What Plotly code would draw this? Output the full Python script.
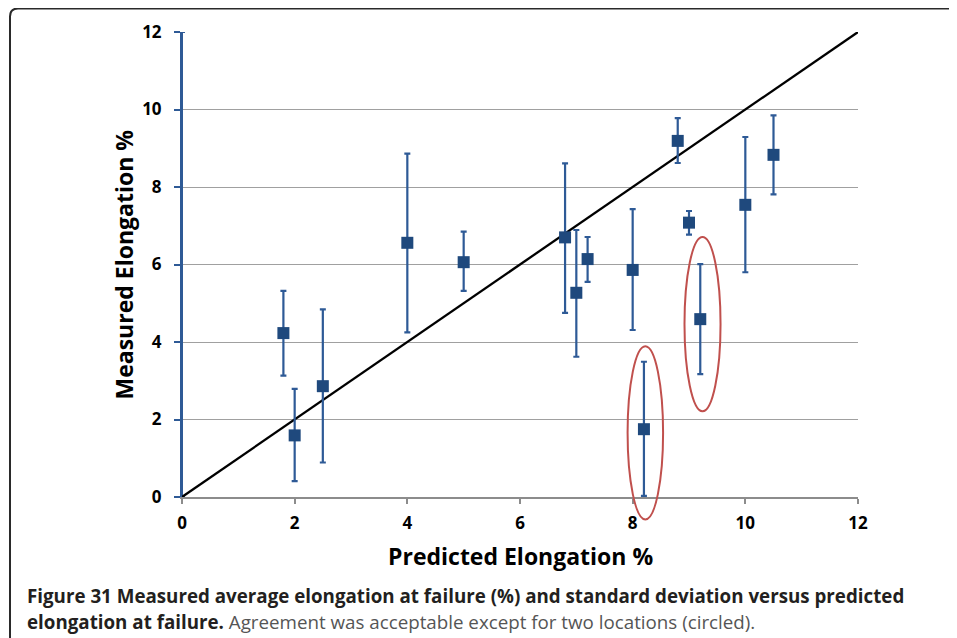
import plotly.graph_objects as go

# ---- data ----
pred = [1.8, 2.0, 2.5, 4.0, 5.0, 6.8, 7.0, 7.2, 8.0, 8.2, 8.8, 9.0, 9.2, 10.0, 10.5]
meas = [4.23, 1.59, 2.86, 6.56, 6.06, 6.70, 5.27, 6.14, 5.86, 1.75, 9.19, 7.08, 4.59, 7.54, 8.83]
err_up = [1.09, 1.20, 1.98, 2.30, 0.79, 1.91, 1.62, 0.57, 1.57, 1.74, 0.59, 0.30, 1.42, 1.75, 1.02]
err_dn = [1.10, 1.18, 1.97, 2.31, 0.74, 1.95, 1.65, 0.59, 1.55, 1.72, 0.57, 0.31, 1.42, 1.74, 1.02]

# point at the origin whose error bar runs up the whole y axis
axis_pt_x = [0]
axis_pt_y = [0]
axis_pt_err = [12]

ref_x = [0, 12]
ref_y = [0, 12]

tick_vals = [0, 2, 4, 6, 8, 10, 12]
tick_text = ["0", "2", "4", "6", "8", "10", "12"]
axis_range = [0, 12]

# circled outliers (x0, x1, y0, y1 in data units)
circles = [(7.91, 8.54, -0.58, 3.89), (8.92, 9.56, 2.21, 6.71)]

x_title = "Predicted Elongation %"
y_title = "Measured Elongation %"
cap_bold_1 = "Figure 31 Measured average elongation at failure (%) and standard deviation versus predicted"
cap_bold_2 = "elongation at failure."
cap_norm_2 = " Agreement was acceptable except for two locations (circled)."

# ---- layout / styling (page pixels; the page body has an 8px margin) ----
PAGE_OFF = 8
W, H = 957 - PAGE_OFF, 638 - PAGE_OFF
PLOT_L, PLOT_R, PLOT_T, PLOT_B = 182, 858, 32, 497  # page pixels
ML = PLOT_L - PAGE_OFF
MR = W - (PLOT_R - PAGE_OFF)
MT = PLOT_T - PAGE_OFF
MB = H - (PLOT_B - PAGE_OFF)
PW, PH = W - ML - MR, H - MT - MB
BLUE = "#1F497D"
EBLUE = "#2E5A96"
FONT = "Open Sans"


def px_x(page_px):
    return (page_px - PAGE_OFF - ML) / PW


def px_y(page_py):
    return (H - MB - (page_py - PAGE_OFF)) / PH


fig = go.Figure()

fig.add_trace(go.Scatter(
    x=axis_pt_x, y=axis_pt_y, mode="markers",
    marker=dict(size=1, color="rgba(0,0,0,0)"),
    error_y=dict(type="data", symmetric=False, array=axis_pt_err, arrayminus=[0],
                 color=EBLUE, thickness=2, width=3),
    hoverinfo="skip", showlegend=False, cliponaxis=False,
))

fig.add_trace(go.Scatter(
    x=ref_x, y=ref_y, mode="lines",
    line=dict(color="black", width=2.3),
    showlegend=False,
))

fig.add_trace(go.Scatter(
    x=pred, y=meas, mode="markers",
    marker=dict(symbol="square", size=12, color=BLUE),
    error_y=dict(type="data", symmetric=False, array=err_up, arrayminus=err_dn,
                 color=EBLUE, thickness=2.2, width=3),
    showlegend=False, cliponaxis=False,
))

shapes = []
rng = axis_range[1] - axis_range[0]
for (cx0, cx1, cy0, cy1) in circles:
    shapes.append(dict(
        type="circle", xref="x domain", yref="y domain",
        x0=(cx0 - axis_range[0]) / rng, x1=(cx1 - axis_range[0]) / rng,
        y0=(cy0 - axis_range[0]) / rng, y1=(cy1 - axis_range[0]) / rng,
        line=dict(color="#C0504D", width=2), layer="above",
    ))

# figure frame (rounded top-left corner)
fx0, fy_top, r = 10, 8.5, 8
path = (f"M {px_x(fx0)},{px_y(660)} "
        f"L {px_x(fx0)},{px_y(fy_top + r)} "
        f"Q {px_x(fx0)},{px_y(fy_top)} {px_x(fx0 + r)},{px_y(fy_top)} "
        f"L {px_x(970)},{px_y(fy_top)}")
shapes.append(dict(type="path", xref="paper", yref="paper", path=path,
                   line=dict(color="#2a2a2a", width=2)))

fig.update_layout(
    width=W, height=H,
    margin=dict(l=ML, r=MR, t=MT, b=MB, autoexpand=False),
    paper_bgcolor="white", plot_bgcolor="white",
    font=dict(family=FONT, color="black"),
    shapes=shapes,
    showlegend=False,
)

fig.update_xaxes(
    range=axis_range, tickvals=tick_vals, ticktext=tick_text,
    showgrid=False, zeroline=False,
    showline=True, linecolor="#8c8c8c", linewidth=1.5,
    ticks="outside", ticklen=5, tickcolor="#8c8c8c", tickwidth=1.5,
    ticklabelstandoff=5,
    tickfont=dict(family=FONT, size=17, color="black", weight="bold"),
)
fig.update_yaxes(
    range=axis_range, tickvals=tick_vals, ticktext=tick_text,
    showgrid=True, gridcolor="#a0a0a0", gridwidth=1, zeroline=False,
    showline=True, linecolor=EBLUE, linewidth=2,
    ticks="outside", ticklen=6, tickcolor=EBLUE, tickwidth=2,
    ticklabelstandoff=9,
    tickfont=dict(family=FONT, size=17, color="black", weight="bold"),
)

# axis titles
fig.add_annotation(
    xref="paper", yref="paper", x=px_x(520), y=px_y(556),
    xanchor="center", yanchor="middle", showarrow=False,
    text=f"<b>{x_title}</b>", font=dict(family=FONT, size=23, color="black"),
)
fig.add_annotation(
    xref="paper", yref="paper", x=px_x(123), y=px_y(264.5),
    xanchor="center", yanchor="middle", showarrow=False, textangle=-90,
    text=f"<b>{y_title}</b>", font=dict(family=FONT, size=23, color="black"),
)

# caption
fig.add_annotation(
    xref="paper", yref="paper", x=px_x(25), y=px_y(595),
    xanchor="left", yanchor="middle", showarrow=False,
    text=f"<b>{cap_bold_1}</b>",
    font=dict(family=FONT, size=18.75, color="#231f20"),
)
fig.add_annotation(
    xref="paper", yref="paper", x=px_x(25), y=px_y(621.5),
    xanchor="left", yanchor="middle", showarrow=False,
    text=f"<b>{cap_bold_2}</b><span style='color:#555555'>{cap_norm_2}</span>",
    font=dict(family=FONT, size=18.75, color="#231f20"),
)

fig.write_html("out.html")
